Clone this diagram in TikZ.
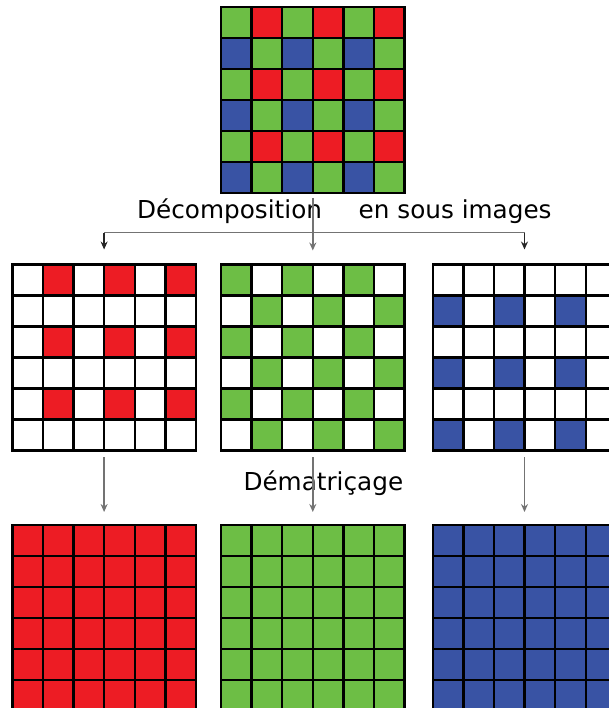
\documentclass[tikz,border=0pt]{standalone}
\usepackage{fontspec}
\setmainfont{DejaVu Sans}
\usetikzlibrary{arrows.meta}
\definecolor{bred}{RGB}{237,28,36}
\definecolor{bgreen}{RGB}{109,190,69}
\definecolor{bblue}{RGB}{57,83,164}
\definecolor{arrowgray}{RGB}{115,115,115}
\newcommand{\cw}{30.6}
\newcommand{\ch}{31}
\newcommand{\gridlines}[2]{%
  \foreach \k in {0,...,6} {
    \draw[gridline] ({#1+\k*\cw},#2) -- ({#1+\k*\cw},{#2+6*\ch});
    \draw[gridline] (#1,{#2+\k*\ch}) -- ({#1+6*\cw},{#2+\k*\ch});
  }}
\newcommand{\fillcell}[5]{\fill[#5] ({#1+#3*\cw},{#2+#4*\ch}) rectangle ++(\cw,\ch);}
\newcommand{\gridbg}[3]{\fill[#3] (#1,#2) rectangle ++({6*\cw},{6*\ch});}
\tikzset{
  gridline/.style={line width=2.4pt, black, line cap=rect},
  gridbox/.style={rectangle, inner sep=0pt, outer sep=0pt, minimum width=183.6pt, minimum height=186pt},
  label/.style={inner sep=0pt, anchor=base west, font=\fontsize{24.7}{29}\selectfont},
  grayarrow/.style={line width=1.4pt, arrowgray, -{Stealth[length=8pt,width=7pt]}},
  blackarrow/.style={line width=1.4pt, black!85, -{Stealth[length=8pt,width=7pt]}},
  grayline/.style={line width=1.4pt, arrowgray}
}
\begin{document}
\begin{tikzpicture}[x=1pt,y=-1pt]
\useasboundingbox (0,0) rectangle (609,708);
\clip (0,0) rectangle (609,708);
% ---------- top Bayer mosaic ----------
\gridbg{221}{7}{bgreen}
\foreach \i in {1,3,5} \foreach \j in {0,2,4} {\fillcell{221}{7}{\i}{\j}{bred}}
\foreach \i in {0,2,4} \foreach \j in {1,3,5} {\fillcell{221}{7}{\i}{\j}{bblue}}
\gridlines{221}{7}
\node[gridbox] (top) at ({221+3*\cw},{7+3*\ch}) {};
% ---------- sub images ----------
\gridbg{12.3}{264.5}{white}
\foreach \i in {1,3,5} \foreach \j in {0,2,4} {\fillcell{12.3}{264.5}{\i}{\j}{bred}}
\gridlines{12.3}{264.5}
\node[gridbox] (rsub) at ({12.3+3*\cw},{264.5+3*\ch}) {};
\gridbg{221}{264.5}{white}
\foreach \i in {0,...,5} \foreach \k in {0,2,4} {
  \pgfmathtruncatemacro\jj{\k+mod(\i,2)}
  \fillcell{221}{264.5}{\i}{\jj}{bgreen}}
\gridlines{221}{264.5}
\node[gridbox] (gsub) at ({221+3*\cw},{264.5+3*\ch}) {};
\gridbg{432.7}{264.5}{white}
\foreach \i in {0,2,4} \foreach \j in {1,3,5} {\fillcell{432.7}{264.5}{\i}{\j}{bblue}}
\gridlines{432.7}{264.5}
\node[gridbox] (bsub) at ({432.7+3*\cw},{264.5+3*\ch}) {};
% ---------- full planes ----------
\gridbg{12.3}{525}{bred}
\gridlines{12.3}{525}
\node[gridbox] (rfull) at ({12.3+3*\cw},{525+3*\ch}) {};
\gridbg{221}{525}{bgreen}
\gridlines{221}{525}
\node[gridbox] (gfull) at ({221+3*\cw},{525+3*\ch}) {};
\gridbg{432.7}{525}{bblue}
\gridlines{432.7}{525}
\node[gridbox] (bfull) at ({432.7+3*\cw},{525+3*\ch}) {};
% ---------- labels ----------
\node[label] (dec) at (137,218.3) {Décomposition};
\node[label] (sous) at (358.5,218.3) {en sous images};
\node[label] (demat) at (243.3,490.7) {Dématriçage};
% ---------- connectors ----------
\coordinate (bar) at (313,232.7);
\draw[grayline] (rsub.north |- bar) -- (bsub.north |- bar);
\draw[blackarrow] (rsub.north |- bar) -- ([yshift=15pt]rsub.north);
\draw[blackarrow] (bsub.north |- bar) -- ([yshift=15pt]bsub.north);
\draw[grayarrow, shorten <=5pt, shorten >=14pt] (top.south) -- (gsub.north);
\draw[grayarrow, shorten <=6.5pt, shorten >=13pt] (rsub.south) -- (rfull.north);
\draw[grayarrow, shorten <=6.5pt, shorten >=13pt] (gsub.south) -- (gfull.north);
\draw[grayarrow, shorten <=6.5pt, shorten >=13pt] (bsub.south) -- (bfull.north);
\end{tikzpicture}
\end{document}
